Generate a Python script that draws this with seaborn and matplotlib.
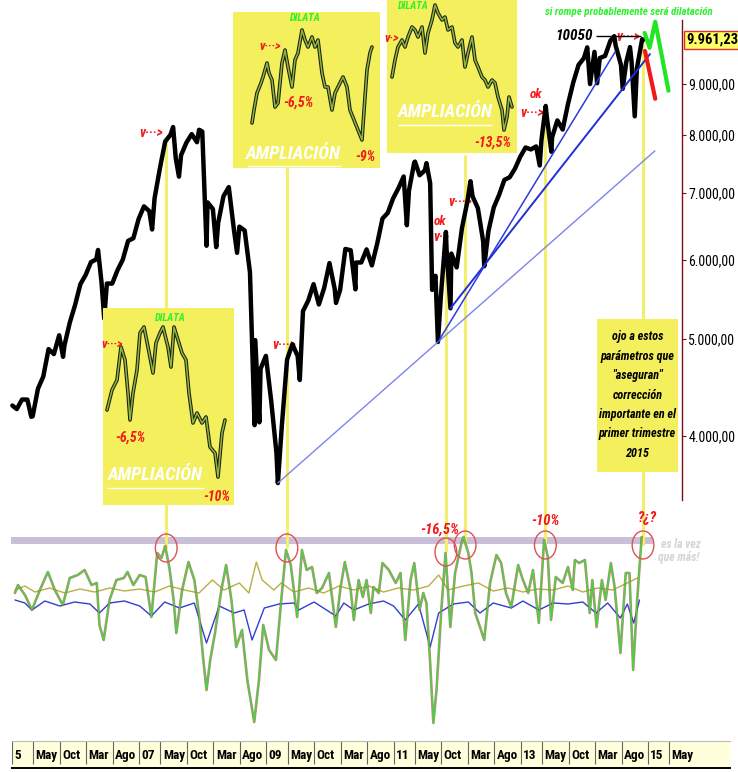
import numpy as np
import pandas as pd
import seaborn as sns
import matplotlib.pyplot as plt
from matplotlib.patches import Ellipse
from matplotlib.ticker import NullLocator
from matplotlib import font_manager

# ---------------- data ----------------
# index closes (month ends plus the main swing highs / lows)
price_dates = [
    '2005-01-03', '2005-01-28', '2005-02-28', '2005-03-28', '2005-04-20', '2005-04-28', '2005-05-28',
    '2005-06-28', '2005-07-28', '2005-08-28', '2005-09-28', '2005-10-20', '2005-10-28', '2005-11-28',
    '2005-12-28', '2006-01-28', '2006-02-28', '2006-03-28', '2006-04-28', '2006-05-08', '2006-05-28',
    '2006-06-13', '2006-06-28', '2006-07-28', '2006-08-28', '2006-09-28', '2006-10-28', '2006-11-28',
    '2006-12-28', '2007-01-28', '2007-02-28', '2007-03-14', '2007-03-28', '2007-04-28', '2007-05-28',
    '2007-06-28', '2007-07-13', '2007-07-28', '2007-08-16', '2007-08-28', '2007-09-28', '2007-10-28',
    '2007-11-28', '2007-12-10', '2007-12-28', '2008-01-22', '2008-01-28', '2008-02-28', '2008-03-17',
    '2008-03-28', '2008-04-28', '2008-05-28', '2008-06-28', '2008-07-15', '2008-07-28', '2008-08-28',
    '2008-09-28', '2008-10-24', '2008-10-28', '2008-11-21', '2008-11-28', '2008-12-28', '2009-01-28',
    '2009-02-28', '2009-03-06', '2009-03-28', '2009-04-28', '2009-05-28', '2009-06-28', '2009-07-10',
    '2009-07-28', '2009-08-28', '2009-09-28', '2009-10-28', '2009-11-28', '2009-12-28', '2010-01-28',
    '2010-02-05', '2010-02-28', '2010-03-28', '2010-04-28', '2010-05-25', '2010-05-28', '2010-06-28',
    '2010-07-28', '2010-08-28', '2010-09-28', '2010-10-28', '2010-11-28', '2010-12-28', '2011-01-28',
    '2011-02-28', '2011-03-16', '2011-03-28', '2011-04-28', '2011-05-02', '2011-05-28', '2011-06-28',
    '2011-07-07', '2011-07-28', '2011-08-09', '2011-08-28', '2011-09-12', '2011-09-28', '2011-10-27',
    '2011-10-31', '2011-11-23', '2011-11-28', '2011-12-28', '2012-01-28', '2012-02-28', '2012-03-16',
    '2012-03-28', '2012-04-28', '2012-05-28', '2012-06-04', '2012-06-28', '2012-07-28', '2012-08-28',
    '2012-09-28', '2012-10-28', '2012-11-28', '2012-12-28', '2013-01-28', '2013-02-28', '2013-03-28',
    '2013-04-18', '2013-04-28', '2013-05-22', '2013-05-28', '2013-06-24', '2013-06-28', '2013-07-28',
    '2013-08-28', '2013-09-28', '2013-10-28', '2013-11-28', '2013-12-28', '2014-01-17', '2014-02-03',
    '2014-02-28', '2014-03-13', '2014-03-28', '2014-04-28', '2014-05-28', '2014-06-20', '2014-06-28',
    '2014-07-28', '2014-08-08', '2014-08-28', '2014-09-19', '2014-09-28', '2014-10-16', '2014-10-28',
    '2014-11-28', '2014-12-03']
price_close = [
    4290, 4255, 4350, 4349, 4180, 4185, 4460,
    4586, 4886, 4830, 5044, 4800, 4929, 5193,
    5408, 5674, 5797, 5970, 6009, 6140, 5692,
    5243, 5683, 5682, 5859, 6004, 6269, 6309,
    6597, 6789, 6715, 6437, 6917, 7409, 7883,
    8007, 8151, 7584, 7270, 7638, 7862, 8019,
    7871, 8100, 8067, 6200, 6851, 6748, 6180,
    6535, 6949, 7097, 6418, 6100, 6479, 6422,
    5831, 4100, 4988, 4127, 4669, 4810, 4338,
    3844, 3588, 4085, 4769, 4941, 4809, 4550,
    5332, 5465, 5675, 5415, 5625, 5957, 5608,
    5434, 5598, 6154, 6136, 5607, 5964, 5966,
    6148, 5925, 6229, 6601, 6688, 6914, 7077,
    7273, 6500, 7041, 7514, 7527, 7294, 7376,
    7500, 7159, 5600, 5785, 4966, 5502, 6400,
    6141, 5367, 6089, 5898, 6458, 6856, 7194,
    6947, 6761, 6264, 5914, 6416, 6772, 6970,
    7216, 7260, 7405, 7612, 7776, 7741, 7795,
    7460, 7914, 8557, 8349, 7700, 7959, 8276,
    8104, 8594, 9033, 9406, 9552, 9794, 9000,
    9692, 9017, 9556, 9603, 9943, 10050, 9833,
    9407, 8903, 9470, 9800, 9474, 8355, 9327,
    9980, 9961]

y_ticks = [4000, 5000, 6000, 7000, 8000, 9000]
last_price = 9961.23
resistance = 10050

# support lines: start low, second low it runs through, end date
trend_start = [('2009-03-06', 3588), ('2011-09-12', 4966), ('2011-11-23', 5367)]
trend_via = [('2011-09-12', 4966), ('2012-06-04', 5914), ('2014-08-08', 8903)]
trend_end = ['2015-02-10', '2014-06-25', '2015-01-12']

# the two possible paths drawn at the right
red_path_dates = ['2014-12-14', '2015-02-12']
red_path_prices = [9712, 8700]
green_path_dates = ['2014-12-12', '2015-01-10', '2015-02-12', '2015-04-27']
green_path_prices = [10124, 9784, 10390, 8863]

# signals: date, price where the yellow guide starts, oscillator level circled
signal_dates = ['2007-06-04', '2009-04-27', '2011-10-27', '2012-02-16', '2013-05-20', '2014-12-03']
signal_price = [7910, 7470, 6285, 7644, 8285, 9850]
signal_osc = [50, 50, 46, 53, 53, 53]

# oscillator panel (months since Jan 2005, level)
osc_month = [0.56, 1.13, 2.44, 3.76, 5.26, 6.77, 8.08, 9.59, 10.9, 12.4, 13.7, 15.0, 16.0, 16.5, 17.3,
             18.4, 19.7, 21.1, 21.8, 22.9, 24.1, 25.2, 26.3, 27.4, 28.2, 28.9, 29.7, 30.5, 31.0, 32.1,
             33.3, 34.4, 35.3, 36.1, 36.7, 37.4, 38.3, 39.5, 40.4, 41.4, 42.3, 43.4, 44.4, 45.7, 46.6,
             47.4, 48.5, 49.8, 50.8, 51.7, 52.6, 53.8, 54.7, 55.6, 56.6, 57.5, 58.5, 59.8, 61.1, 62.0,
             62.8, 63.9, 64.5, 65.4, 66.2, 66.9, 67.7, 68.2, 69.2, 69.9, 71.1, 72.4, 73.3, 74.2, 75.2,
             75.9, 76.9, 77.6, 78.2, 78.9, 79.5, 80.1, 81.0, 81.8, 82.7, 83.6, 84.8, 85.2, 86.1, 86.7,
             87.4, 88.3, 89.1, 90.2, 91.4, 92.3, 93.2, 94.2, 95.5, 96.4, 97.4, 98.3, 99.4, 100.4, 101.1,
             101.7, 102.6, 103.9, 104.9, 105.8, 106.2, 107.0, 108.1, 109.0, 109.5, 110.3, 111.3, 112.0,
             113.0, 113.7, 114.8, 115.8, 116.5, 117.2, 118.0, 118.8]
osc_value = [5, 13, 3, -12, 8, 26, 8, -7, 20, 23, 28, 13, 15, -27, -42,
             -2, 18, 20, 26, 13, 23, 21, -19, 45, 40, 52, 30, -2, -35, 8,
             36, 18, -17, -62, -92, -62, -35, 8, 33, -2, -49, -32, -82, -124, -82,
             -27, -52, -62, -2, 48, 33, -19, 48, 28, 31, 5, 10, 25, -29, 11,
             36, 8, -22, 18, 1, 18, -15, 11, 5, 35, 28, 15, 25, -42, 18,
             35, -12, 5, -5, -65, -125, -92, -12, 45, -29, 25, 55, 61, 45, 25,
             -15, -29, -42, 15, 43, 35, 5, -9, 33, 18, 5, 28, -25, 58, 41,
             -22, 21, 15, 31, 8, 38, 35, 38, -15, 18, -29, 18, -2,
             35, 11, -55, 25, 25, -72, 1, 61]
blue_month = [0.56, 2.44, 3.76, 6.2, 9.02, 11.8, 14.7, 16.5, 18.4, 21.2, 24.1, 26.3, 28.8, 31.6, 34.4,
              36.7, 39.1, 41.9, 43.8, 45.3, 47.6, 50.4, 53.2, 54.1, 57.0, 61.1, 62.6, 64.5, 67.3, 70.1,
              72.0, 74.2, 76.7, 78.9, 80.5, 83.3, 86.1, 88.3, 90.8, 94.2, 96.4, 99.4, 102.1, 104.9,
              107.7, 110.2, 112.4, 114.8, 116.1, 117.3, 118.4]
blue_value = [-2, -5, -12, -3, -8, -4, -6, -15, -5, -3, -8, -18, -4, -10, -5,
              -45, -8, -15, -12, -42, -10, -6, -5, -12, -4, -18, -5, -12, -6, -3,
              -8, -22, -6, -49, -15, -6, -4, -15, -5, -10, -3, -12, -5, -6,
              -4, -15, -5, -20, -6, -25, -2]
olive_month = [0.56, 2.44, 4.32, 7.14, 9.96, 12.8, 15.6, 18.4, 21.2, 24.1, 26.9, 29.7, 32.5, 35.3, 37.8,
               40.0, 42.9, 44.7, 46.1, 47.2, 49.4, 50.8, 53.2, 56.0, 58.8, 61.7, 64.5, 67.3, 70.1, 72.9,
               75.8, 78.6, 80.5, 82.3, 85.2, 88.0, 90.8, 93.6, 96.4, 99.2, 102.1, 104.9, 107.7, 110.5,
               113.3, 116.1, 118.0]
olive_value = [8, 12, 6, 10, 5, 9, 6, 10, 7, 9, 6, 12, 8, 5, 18,
               8, 15, 5, 36, 18, 8, 15, 6, 10, 5, 12, 8, 12, 6, 10,
               8, 12, 23, 8, 12, 15, 7, 10, 6, 9, 8, 12, 6, 10,
               8, 15, 20]

# "AMPLIACION" close-ups (session, level inside each box)
zoom1_x = [4, 9, 14, 18, 22, 25, 27, 30, 34, 37, 41, 45, 50, 53, 57, 60, 65, 68, 71, 75, 79, 83, 86, 90,
           94, 99, 103, 107, 112, 115, 119, 122]
zoom1_y = [95, 115, 125, 158, 145, 112, 85, 112, 135, 172, 178, 158, 132, 162, 172, 178, 158, 138, 178,
           165, 152, 145, 112, 82, 92, 82, 88, 58, 52, 28, 72, 85]
zoom2_x = [19, 21, 24, 28, 30, 34, 36, 39, 42, 45, 49, 52, 55, 59, 62, 65, 69, 72, 75, 79, 82, 85, 89, 92,
           95, 99, 102, 105, 110, 114, 117, 121, 125, 129, 132, 134, 137, 139]
zoom2_y = [45, 58, 75, 85, 91, 105, 95, 88, 61, 65, 105, 118, 101, 81, 108, 115, 138, 128, 121, 131, 121,
           128, 95, 81, 81, 58, 75, 81, 91, 81, 58, 48, 38, 28, 71, 98, 115, 121]
zoom3_x = [5, 8, 11, 15, 18, 21, 25, 28, 31, 35, 38, 41, 45, 48, 51, 55, 58, 61, 65, 68, 71, 75, 78, 81,
           85, 88, 91, 95, 98, 101, 105, 108, 111, 115, 117, 120, 122, 125]
zoom3_y = [76, 93, 106, 113, 106, 116, 126, 123, 116, 126, 100, 120, 133, 148, 140, 133, 136, 123, 126,
           110, 106, 113, 86, 100, 116, 93, 86, 76, 73, 66, 73, 70, 56, 43, 23, 36, 56, 46]

tick_month = [0, 4, 9, 14, 19, 24, 28, 33, 38, 43, 48, 52, 57, 62, 67, 72, 76, 81, 86, 91, 96, 100, 105,
              110, 115, 120, 124]
tick_label = ['5', 'May', 'Oct', 'Mar', 'Ago', '07', 'May', 'Oct', 'Mar', 'Ago', '09', 'May', 'Oct', 'Mar',
              'Ago', '11', 'May', 'Oct', 'Mar', 'Ago', '13', 'May', 'Oct', 'Mar', 'Ago', '15', 'May']

note_lines = ['ojo a estos', 'parámetros que', '"aseguran"', 'corrección', 'importante en el',
              'primer trimestre', '2015']

# ---------------- layout helpers ----------------
W, H = 738, 772
X0, PPM = 12, 5.30          # pixel of the Jan 2005 tick, pixels per month
XLIM = (-X0 / PPM, (682 - X0) / PPM)
YELLOW = '#f4ef5c'
GUIDE = '#f3ef6a'
RED = '#f01a1a'
GREEN = '#2ef02e'

sns.set_theme(style='white')

# pick a narrow face if one is installed, otherwise plain Liberation Sans, smaller
fonts = font_manager.fontManager.ttflist
names = {f.name for f in fonts}
condensed = {f.name for f in fonts if str(f.stretch) in ('condensed', 'semi-condensed', 'extra-condensed')}
face, stretch, k = 'Liberation Sans', 'normal', 0.82
for fam, kk in [('Liberation Sans Narrow', 1.0), ('Roboto Condensed', 1.0), ('Noto Sans Condensed', 0.95),
                ('Open Sans Condensed', 0.95)]:
    if fam in names:
        face, k = fam, kk
        break
else:
    for fam, kk in [('Noto Sans', 0.9), ('Open Sans', 0.9), ('Roboto', 0.9)]:
        if fam in condensed:
            face, stretch, k = fam, 'condensed', kk
            break
plt.rcParams['font.family'] = [face, 'DejaVu Sans']
plt.rcParams['font.stretch'] = stretch


def fs(size):
    return size * k


def rect(x, y, w, h):
    return [x / W, 1 - (y + h) / H, w / W, h / H]


def mpos(d):
    t = pd.Timestamp(d)
    return (t.year - 2005) * 12 + t.month - 1 + (t.day - 1) / 30


def note(ax, x, y, s, color, size, **kw):
    kw.setdefault('ha', 'center')
    kw.setdefault('va', 'center')
    ax.text(x, y, s, color=color, fontsize=fs(size), fontweight='bold', fontstyle='italic', **kw)


def euro(v):
    return f'{v:,.2f}'.replace(',', 'X').replace('.', ',').replace('X', '.')


price = pd.DataFrame({'m': [mpos(d) for d in price_dates], 'close': price_close})
sig_m = [mpos(d) for d in signal_dates]

fig = plt.figure(figsize=(7.38, 7.72), dpi=100)
fig.patch.set_facecolor('white')

# ---------------- price panel ----------------
ax = fig.add_axes(rect(0, 0, 682, 530))
ax.set_yscale('log')
ax.vlines(sig_m, 3220, signal_price, color=GUIDE, lw=2.2, zorder=1)
sns.lineplot(data=price, x='m', y='close', ax=ax, color='black', lw=3.2, zorder=4)

colors = ['#7b86ea', '#2b3be0', '#1f2fd6']
widths = [1.0, 1.1, 1.4]
for (d1, p1), (d2, p2), de, c, lw in zip(trend_start, trend_via, trend_end, colors, widths):
    x1, x2, xe = mpos(d1), mpos(d2), mpos(de)
    pe = np.exp(np.log(p1) + (np.log(p2) - np.log(p1)) * (xe - x1) / (x2 - x1))
    ax.plot([x1, xe], [p1, pe], color=c, lw=lw, zorder=5)

ax.plot([mpos(d) for d in red_path_dates], red_path_prices, color='#f01818', lw=3, zorder=6)
ax.plot([mpos(d) for d in green_path_dates], green_path_prices, color='#22e622', lw=3, zorder=6)
ax.hlines(resistance, mpos('2014-03-08'), mpos('2014-11-20'), color='black', lw=1, zorder=5)
note(ax, mpos('2014-02-20'), resistance, '10050', 'black', 11, ha='right')
note(ax, mpos('2014-09-15'), 10626, 'si rompe probablemente será dilatación', GREEN, 7.8)

note(ax, mpos('2007-03-10'), 8040, 'v···>', RED, 10)
note(ax, mpos('2009-04-10'), 4933, 'v···>', RED, 10)
note(ax, mpos('2011-09-25'), 6560, 'ok', RED, 9.5)
note(ax, mpos('2011-10-01'), 6320, 'v·>', RED, 10)
note(ax, mpos('2012-01-20'), 6859, 'v···>', RED, 10)
note(ax, mpos('2013-03-25'), 8780, 'ok', RED, 9.5)
note(ax, mpos('2013-03-05'), 8420, 'v···>', RED, 10)
note(ax, mpos('2014-09-08'), 10031, 'v···>', RED, 10)

ax.set_xlim(XLIM)
ax.set_ylim(3220, 10924)
ax.set_xlabel('')
ax.set_ylabel('')
ax.set_xticks([])
ax.yaxis.tick_right()
ax.set_yticks(y_ticks)
ax.set_yticklabels([euro(v) for v in y_ticks])
ax.yaxis.set_minor_locator(NullLocator())
ax.tick_params(axis='y', right=True, left=False, length=3, width=0.8, color='#7a1010',
               labelsize=fs(10), pad=1.5, labelcolor='black')
for side in ['left', 'top', 'bottom']:
    ax.spines[side].set_visible(False)
ax.spines['right'].set_color('#7a1010')
ax.spines['right'].set_linewidth(1)
ax.spines['right'].set_bounds(3450, 10430)
ax.set_facecolor('white')
ax.annotate(euro(last_price), xy=(1, last_price), xycoords=ax.get_yaxis_transform(),
            xytext=(3, 0), textcoords='offset points', ha='left', va='center',
            fontsize=fs(10.5), fontweight='bold', color='black',
            bbox=dict(boxstyle='square,pad=0.15', fc='#ffff66', ec='#e03030', lw=1))

# ---------------- oscillator panel ----------------
ax2 = fig.add_axes(rect(0, 530, 682, 210))
ax2.set_facecolor('none')
ax2.fill_between([-0.2, 120.9], 53.5, 60.5, color='#c9bfd9', lw=0, zorder=1)
ax2.vlines(sig_m, signal_osc, 68, color=GUIDE, lw=2.2, zorder=2)
sns.lineplot(x=olive_month, y=olive_value, ax=ax2, color='#b8b040', lw=1, zorder=3)
sns.lineplot(x=blue_month, y=blue_value, ax=ax2, color='#3040d0', lw=1, zorder=3)
sns.lineplot(x=osc_month, y=osc_value, ax=ax2, color='#a83232', lw=1.9, alpha=0.6, zorder=4)
sns.lineplot(x=osc_month, y=osc_value, ax=ax2, color='#3fd83f', lw=1.0, zorder=5)
for m, v in zip(sig_m, signal_osc):
    ax2.add_patch(Ellipse((m, v), 4.1, 28, fill=False, ec='#e05050', lw=1, zorder=6))
note(ax2, mpos('2011-09-20'), 68, '-16,5%', RED, 10.5)
note(ax2, mpos('2013-05-20'), 77, '-10%', RED, 10.5)
note(ax2, mpos('2014-12-25'), 80, '?¿?', RED, 10.5)
note(ax2, 126.2, 54, 'es la vez', '#d4d4d4', 8.5)
note(ax2, 125.8, 40, 'que más!', '#d4d4d4', 8.5)
ax2.set_xlim(XLIM)
ax2.set_ylim(-142, 68)
ax2.set_xlabel('')
ax2.set_ylabel('')
ax2.set_xticks([])
ax2.set_yticks([])
for s in ax2.spines.values():
    s.set_visible(False)

# ---------------- date strip ----------------
axs = fig.add_axes(rect(12, 741, 718, 27))
axs.set_facecolor('#ffffdc')
axs.set_xlim(0, 718 / PPM)
axs.set_ylim(0, 1)
axs.vlines(tick_month, 0.15, 1, color='#666666', lw=0.8)
for m, lab in zip(tick_month, tick_label):
    axs.text(m + 0.45, 0.45, lab, ha='left', va='center', fontsize=fs(9.5), fontweight='bold', color='black')
axs.set_xticks([])
axs.set_yticks([])
for side in ['left', 'right']:
    axs.spines[side].set_visible(False)
axs.spines['top'].set_color('#bbbbbb')
axs.spines['top'].set_linewidth(0.8)
axs.spines['bottom'].set_color('black')
axs.spines['bottom'].set_linewidth(1.4)


# ---------------- close-up boxes ----------------
def zoom_box(x, y, w, h, xs, ys):
    iax = fig.add_axes(rect(x, y, w, h))
    iax.set_facecolor(YELLOW)
    sns.lineplot(x=xs, y=ys, ax=iax, color='#1c1c1c', lw=2.6, sort=False)
    sns.lineplot(x=xs, y=ys, ax=iax, color='#8db83a', lw=1.1, sort=False)
    iax.set_xlim(0, w)
    iax.set_ylim(0, h)
    iax.set_xlabel('')
    iax.set_ylabel('')
    iax.set_xticks([])
    iax.set_yticks([])
    for s in iax.spines.values():
        s.set_visible(False)
    return iax


b1 = zoom_box(103, 308, 131, 197, zoom1_x, zoom1_y)
note(b1, 67, 187, 'DILATA', GREEN, 7.5)
note(b1, 9, 160, 'v···>', RED, 9)
note(b1, 27, 67, '-6,5%', RED, 10)
note(b1, 52, 30, 'AMPLIACIÓN', 'white', 13.2)
b1.hlines(17, 4, 101, color='white', lw=1)
note(b1, 114, 8, '-10%', RED, 10)

b2 = zoom_box(233, 12, 147, 156, zoom2_x, zoom2_y)
note(b2, 72, 150, 'DILATA', GREEN, 7.5)
note(b2, 37, 121, 'v···>', RED, 9)
note(b2, 65, 65, '-6,5%', RED, 10)
note(b2, 60, 14, 'AMPLIACIÓN', 'white', 13.2)
b2.hlines(2, 14, 108, color='white', lw=1)
note(b2, 132, 11, '-9%', RED, 10)

b3 = zoom_box(387, 0, 130, 153, zoom3_x, zoom3_y)
note(b3, 26, 147, 'DILATA', GREEN, 7.5)
note(b3, 5, 114, 'v·>', RED, 9)
note(b3, 58, 41, 'AMPLIACIÓN', 'white', 13.2)
b3.hlines(28, 11, 105, color='white', lw=1)
note(b3, 106, 10, '-13,5%', RED, 10)

# ---------------- comment box ----------------
nb = fig.add_axes(rect(597, 319, 81, 153))
nb.set_facecolor(YELLOW)
nb.set_xlim(0, 1)
nb.set_ylim(0.02, len(note_lines) + 0.93)
for i, line in enumerate(note_lines):
    note(nb, 0.5, len(note_lines) - i, line, 'black', 8.7)
nb.set_xticks([])
nb.set_yticks([])
for s in nb.spines.values():
    s.set_visible(False)

fig.savefig('out.png', dpi=100, facecolor='white')
